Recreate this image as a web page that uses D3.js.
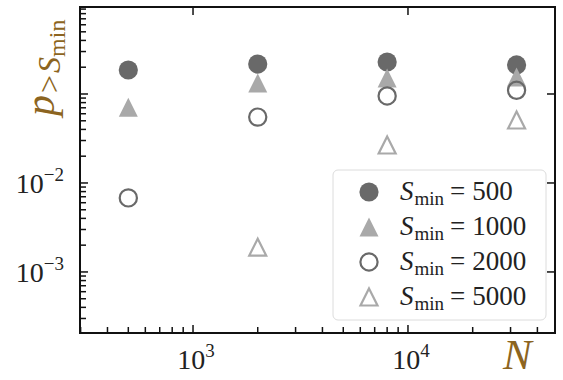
<!DOCTYPE html>
<html>
<head>
<meta charset="utf-8">
<script src="https://cdn.jsdelivr.net/npm/d3@7/dist/d3.min.js"></script>
<style>
  html, body { margin: 0; padding: 0; background: #fff; }
  svg { display: block; }
</style>
</head>
<body>
<svg id="chart" width="563" height="380" font-family="'Liberation Serif', 'Times New Roman', 'DejaVu Serif', serif"></svg>
<script>
// ---- data ----
const Nvalues = [500, 2000, 8000, 32000];
const seriesLabels = ["500", "1000", "2000", "5000"];
const p500  = [0.186, 0.217, 0.229, 0.212];
const p1000 = [0.071, 0.133, 0.151, 0.155];
const p2000 = [0.0068, 0.055, 0.095, 0.110];
const p5000 = [null, 0.0019, 0.0267, 0.051];
const xTickLabels = [{v: 1e3, e: "3"}, {v: 1e4, e: "4"}];
const yTickLabels = [{v: 1e-3, e: "\u22123"}, {v: 1e-2, e: "\u22122"}];

// ---- layout ----
const svg = d3.select("#chart");
const L = 80, R = 555, T = 7, B = 333;
const x = d3.scaleLog().domain([298, 48300]).range([L, R]);
const y = d3.scaleLog().domain([2.06e-4, 0.95]).range([B, T]);
const brown = "#8c6420";
const dark = "#696969", light = "#a9a9a9";

const g = svg.append("g");
const xMajor = [1e3, 1e4];
const yMajor = [1e-3, 1e-2, 1e-1];
const xMinor = [];
[100, 1000, 10000].forEach(d => { for (let k = 2; k <= 9; k++) { const v = d * k; if (v > 298 && v < 48300) xMinor.push(v); } });
const yMinor = [];
[1e-4, 1e-3, 1e-2, 1e-1].forEach(d => { for (let k = 2; k <= 9; k++) { const v = d * k; if (v > 2.06e-4 && v < 0.95) yMinor.push(v); } });

const tk = g.append("g").attr("stroke", "#111").attr("stroke-width", 1.5);
xMajor.forEach(v => tk.append("line").attr("x1", x(v)).attr("x2", x(v)).attr("y1", B).attr("y2", B - 8));
xMinor.forEach(v => tk.append("line").attr("x1", x(v)).attr("x2", x(v)).attr("y1", B).attr("y2", B - 6));
xMajor.forEach(v => tk.append("line").attr("x1", x(v)).attr("x2", x(v)).attr("y1", T).attr("y2", T + 8));
yMajor.forEach(v => tk.append("line").attr("x1", L).attr("x2", L + 8).attr("y1", y(v)).attr("y2", y(v)));
yMinor.forEach(v => tk.append("line").attr("x1", L).attr("x2", L + 6).attr("y1", y(v)).attr("y2", y(v)));
yMajor.forEach(v => tk.append("line").attr("x1", R).attr("x2", R - 8).attr("y1", y(v)).attr("y2", y(v)));

g.append("rect").attr("x", L).attr("y", T).attr("width", R - L).attr("height", B - T)
  .attr("fill", "none").attr("stroke", "#111").attr("stroke-width", 2);

// tick labels
xTickLabels.forEach(d => {
  const t = svg.append("text").attr("x", x(d.v) + 3).attr("y", 369)
    .attr("text-anchor", "middle").attr("font-size", 28).attr("fill", "#222");
  t.append("tspan").text("10");
  t.append("tspan").attr("font-size", 19).attr("dy", -12).text(d.e);
});
yTickLabels.forEach(d => {
  const t = svg.append("text").attr("x", 64).attr("y", y(d.v) + 10)
    .attr("text-anchor", "end").attr("font-size", 28).attr("fill", "#222");
  t.append("tspan").text("10");
  t.append("tspan").attr("font-size", 19).attr("dy", -12).text(d.e);
});

// axis labels
svg.append("text").attr("x", 503).attr("y", 369).attr("font-size", 43)
  .attr("font-style", "italic").attr("fill", brown).text("N");
const yl = svg.append("text").attr("transform", "translate(54,116) rotate(-90)")
  .attr("fill", brown).attr("font-size", 42);
yl.append("tspan").attr("font-style", "italic").text("p");
yl.append("tspan").attr("font-size", 32).attr("dy", 6).attr("dx", 2).text(">");
yl.append("tspan").attr("font-size", 32).attr("font-style", "italic").attr("dx", 2).text("S");
yl.append("tspan").attr("font-size", 24).attr("dy", 5).text("min");

// markers
const tri = h => `M0,${-h}L${h},${h}L${-h},${h}Z`;
const series = [
  {vals: p500,  type: "circle", fill: dark,  stroke: "none"},
  {vals: p1000, type: "tri",    fill: light, stroke: "none"},
  {vals: p2000, type: "circle", fill: "none", stroke: dark},
  {vals: p5000, type: "tri",    fill: "none", stroke: light}
];
const plot = svg.append("g");
function drawMarker(sel, s, cx, cy) {
  if (s.type === "circle") {
    const r = s.fill === "none" ? 8.6 : 9.6;
    sel.append("circle").attr("cx", cx).attr("cy", cy).attr("r", r)
      .attr("fill", s.fill).attr("stroke", s.stroke).attr("stroke-width", 2.2);
  } else {
    const h = s.fill === "none" ? 8.5 : 9.5;
    sel.append("path").attr("d", tri(h)).attr("transform", `translate(${cx},${cy})`)
      .attr("fill", s.fill).attr("stroke", s.stroke).attr("stroke-width", 2.2).attr("stroke-linejoin", "miter");
  }
}
series.forEach(s => {
  s.vals.forEach((v, i) => { if (v != null) drawMarker(plot, s, x(Nvalues[i]), y(v)); });
});

// legend
const lg = svg.append("g");
lg.append("rect").attr("x", 333).attr("y", 170).attr("width", 213).attr("height", 150)
  .attr("rx", 5).attr("fill", "#fff").attr("fill-opacity", 0.85).attr("stroke", "#dcdcdc").attr("stroke-width", 1);
const rowsY = [192, 227, 262, 297];
series.forEach((s, i) => {
  drawMarker(lg, s, 369, rowsY[i]);
  const t = lg.append("text").attr("x", 400).attr("y", rowsY[i] + 8).attr("font-size", 27).attr("fill", "#222");
  t.append("tspan").attr("font-style", "italic").text("S");
  t.append("tspan").attr("font-size", 19).attr("dy", 5).attr("dx", 1).text("min");
  t.append("tspan").attr("dy", -5).attr("dx", 6).text("=");
  t.append("tspan").attr("dx", 7).text(seriesLabels[i]);
});
</script>
</body>
</html>
